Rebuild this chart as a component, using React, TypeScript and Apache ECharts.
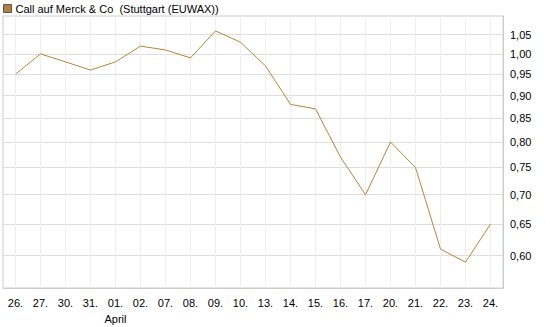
import React, { useEffect, useRef } from "react";
import * as echarts from "echarts";

const seriesName = "Call auf Merck & Co  (Stuttgart (EUWAX))";
const categories = ["26.", "27.", "30.", "31.", "01.", "02.", "07.", "08.", "09.", "10.", "13.", "14.", "15.", "16.", "17.", "20.", "21.", "22.", "23.", "24."];
const values = [0.95, 1.0, 0.98, 0.96, 0.98, 1.02, 1.01, 0.99, 1.06, 1.03, 0.97, 0.88, 0.87, 0.77, 0.7, 0.8, 0.75, 0.61, 0.59, 0.65];
const yTicks = [0.6, 0.65, 0.7, 0.75, 0.8, 0.85, 0.9, 0.95, 1.0, 1.05];
const monthLabel = "April";
const monthAt = "01.";

export default function App() {
  const ref = useRef<HTMLDivElement>(null);
  useEffect(() => {
    if (!ref.current) return;
    const chart = echarts.init(ref.current, null, { renderer: "svg" });
    const font = "'Liberation Sans', Arial, sans-serif";
    chart.setOption({
      animation: false,
      textStyle: { fontFamily: font },
      legend: {
        show: true,
        left: 1,
        top: 1,
        padding: 2,
        icon: "rect",
        itemWidth: 8,
        itemHeight: 8,
        itemGap: 5,
        itemStyle: { color: "#b08040", borderColor: "#555", borderWidth: 1 },
        textStyle: { fontSize: 11, color: "#000", fontFamily: font, padding: [0, 0, 0, -1] },
        data: [seriesName],
      },
      grid: {
        left: 3,
        top: 16,
        width: 500,
        height: 277,
        show: true,
        borderColor: "#ccc",
        borderWidth: 1,
        containLabel: false,
      },
      xAxis: {
        type: "category",
        data: categories,
        boundaryGap: true,
        axisLine: { show: true, lineStyle: { color: "#ccc" } },
        axisTick: { show: false },
        splitLine: { show: true, alignWithLabel: true, lineStyle: { color: "#eeeeee" } },
        axisLabel: {
          interval: 0,
          fontSize: 11,
          color: "#000",
          fontFamily: font,
          margin: 7,
          lineHeight: 16,
          formatter: (v: string) => (v === monthAt ? v + "\n" + monthLabel : v),
        },
      },
      yAxis: {
        type: "log",
        position: "right",
        min: 0.5527,
        max: 1.1008,
        axisLine: { show: true, lineStyle: { color: "#ccc" } },
        axisTick: { show: false, customValues: yTicks },
        splitLine: { show: true, lineStyle: { color: "#dddddd" } },
        axisLabel: {
          customValues: yTicks,
          fontSize: 11,
          color: "#000",
          fontFamily: font,
          margin: 7,
          formatter: (v: number) => v.toFixed(2).replace(".", ","),
        },
      },
      series: [
        {
          name: seriesName,
          type: "line",
          data: values,
          symbol: "none",
          lineStyle: { color: "#b5843c", width: 1 },
          itemStyle: { color: "#b08040" },
        },
      ],
    });
    return () => chart.dispose();
  }, []);
  return (
    <div
      ref={ref}
      style={{ position: "fixed", left: 0, top: 0, width: 545, height: 327, background: "#fff" }}
    />
  );
}
